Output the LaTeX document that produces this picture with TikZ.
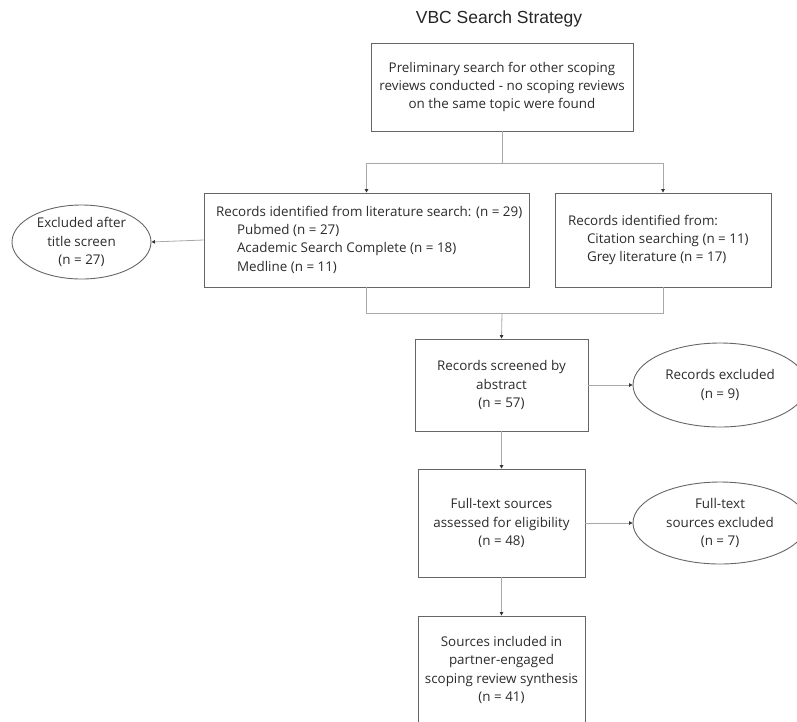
\documentclass[tikz,border=0pt]{standalone}
\usepackage{fontspec}
\setmainfont{Open Sans}
\newfontfamily\titlefont{Liberation Sans}
\usetikzlibrary{arrows.meta,shapes.geometric}
\definecolor{boxline}{HTML}{666666}
\definecolor{connline}{HTML}{A8A8A8}
\definecolor{txt}{HTML}{2B2B2B}
\begin{document}
\begin{tikzpicture}[x=1pt,y=-1pt,
  every node/.style={text=txt,font=\fontsize{13.4}{18.3}\selectfont},
  stepbox/.style={draw=boxline,line width=0.9pt,rectangle,inner sep=0pt,align=center},
  exbox/.style={draw=boxline,line width=0.9pt,ellipse,inner sep=0pt,align=center},
  conn/.style={draw=connline,line width=0.8pt},
  arr/.style={conn,-{Triangle[length=3.5pt,width=3.5pt,color=black!80,fill=black!80]}}
]
\useasboundingbox (0,0) rectangle (797,721);
\clip (0,0) rectangle (797,721);

\node[anchor=base,font=\titlefont\fontsize{17.5}{20}\selectfont,text=black!85] (title) at (499,23) {VBC Search Strategy};

\node[stepbox,minimum width=262pt,minimum height=88pt] (top) at (502,87)
  {Preliminary search for other scoping\\reviews conducted - no scoping reviews\\on the same topic were found};

\node[stepbox,minimum width=325pt,minimum height=94pt,inner xsep=6pt] (lit) at (366.5,240)
  {\makebox[313pt][l]{\hspace*{6pt}\begin{tabular}{@{}l@{}}
   Records identified from literature search: (n = 29)\\
   \hspace*{21pt}Pubmed (n = 27)\\
   \hspace*{21pt}Academic Search Complete (n = 18)\\
   \hspace*{21pt}Medline (n = 11)\end{tabular}}};

\node[stepbox,minimum width=216pt,minimum height=94pt,inner xsep=13pt] (oth) at (663,240)
  {\makebox[190pt][l]{\begin{tabular}{@{}l@{}}
   Records identified from:\\
   \hspace*{19pt}Citation searching (n = 11)\\
   \hspace*{19pt}Grey literature (n = 17)\end{tabular}}};

\node[exbox,minimum width=139pt,minimum height=74pt] (ex1) at (81.5,242)
  {Excluded after\\title screen\\(n = 27)};

\node[stepbox,minimum width=173pt,minimum height=92pt] (scr) at (501.5,385)
  {Records screened by\\abstract\\(n = 57)};

\node[exbox,minimum width=174pt,minimum height=84pt] (ex2) at (720,385)
  {Records excluded\\(n = 9)};

\node[stepbox,minimum width=167pt,minimum height=108pt] (full) at (501.5,523)
  {Full-text sources\\assessed for eligibility\\(n = 48)};

\node[exbox,minimum width=174pt,minimum height=82pt] (ex3) at (720,523)
  {Full-text\\sources excluded\\(n = 7)};

\node[stepbox,minimum width=167pt,minimum height=108pt] (inc) at (501.5,670)
  {Sources included in\\partner-engaged\\scoping review synthesis\\(n = 41)};

\coordinate (split) at (502,163);
\coordinate (merge) at (502,313);

\draw[conn] (top.south) -- (split);
\draw[arr] (split) -| (lit.north);
\draw[arr] (split) -| (oth.north);
\draw[conn] (lit.south) |- (merge);
\draw[conn] (oth.south) |- (merge);
\draw[arr] (merge) -- (scr.north);
\draw[arr] (lit.west) -- (ex1.east);
\draw[arr] (scr.east) -- (ex2.west);
\draw[arr] (scr.south) -- (full.north);
\draw[arr] (full.east) -- (ex3.west);
\draw[arr] (full.south) -- (inc.north);
\end{tikzpicture}
\end{document}
